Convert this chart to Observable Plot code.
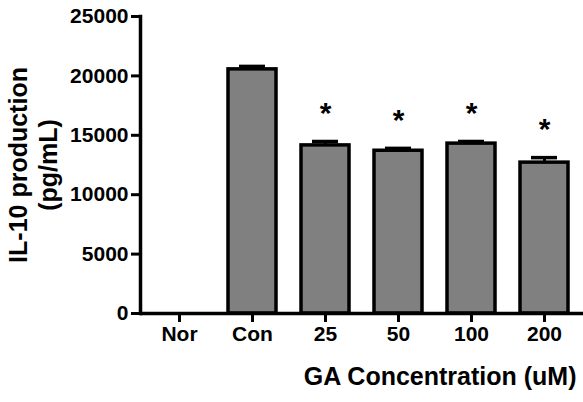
<!DOCTYPE html>
<html>
<head>
<meta charset="utf-8">
<script src="https://cdn.jsdelivr.net/npm/d3@7"></script>
<script src="https://cdn.jsdelivr.net/npm/@observablehq/plot@0.6"></script>
<style>
  html, body { margin: 0; padding: 0; background: #fff; }
</style>
</head>
<body>
<div id="chart"></div>
<script>
const groups = ["Nor", "Con", "25", "50", "100", "200"];
const means  = [0, 20550, 14150, 13700, 14300, 12700];
const sems   = [0, 250, 330, 200, 180, 420];
const stars  = ["", "", "*", "*", "*", "*"];
const yTicks = [0, 5000, 10000, 15000, 20000, 25000];

const data = groups.map((g, i) => ({group: g, mean: means[i], sem: sems[i], top: means[i] + sems[i], star: stars[i]}));

const font = "'Liberation Sans', Arial, sans-serif";

const chart = Plot.plot({
  width: 583,
  height: 402,
  marginLeft: 140,
  marginRight: 0,
  marginTop: 16,
  marginBottom: 89,
  style: {fontFamily: font, fontWeight: "bold", fontSize: "21px", color: "#000", background: "#fff"},
  x: {domain: groups, paddingInner: 0.34, paddingOuter: 0.17, label: null},
  y: {domain: [0, 25000], label: null},
  marks: [
    Plot.ruleX(data.filter(d => d.sem > 0), {x: "group", y1: "mean", y2: "top", stroke: "#000", strokeWidth: 3}),
    Plot.barY(data, {x: "group", y: "mean", fill: "#808080", stroke: "#000", strokeWidth: 3.5}),
    Plot.tickY(data.filter(d => d.sem > 0), {x: "group", y: "top", stroke: "#000", strokeWidth: 3.5, insetLeft: 11, insetRight: 11}),
    Plot.text(data.filter(d => d.star), {x: "group", y: "top", text: "star", dy: -28, fontSize: 30, fontWeight: "bold", fill: "#000"}),
    Plot.frame({anchor: "left", stroke: "#000", strokeWidth: 3.5}),
    Plot.ruleY([0], {stroke: "#000", strokeWidth: 3.5}),
    Plot.axisY({ticks: yTicks, tickSize: 9, tickPadding: 3, strokeWidth: 3, tickFormat: d => String(d), label: null, fontSize: 21}),
    Plot.axisX({tickSize: 9, tickPadding: 4, strokeWidth: 3, label: null, fontSize: 21}),
    Plot.text(["IL-10 production\n(pg/mL)"], {frameAnchor: "left", textAnchor: "middle", rotate: -90, dx: -108, fontSize: 25, fontWeight: "bold", lineHeight: 1.2, fill: "#000"}),
    Plot.text(["GA Concentration (uM)"], {frameAnchor: "bottom-right", textAnchor: "end", dx: -7, dy: 71, fontSize: 25, fontWeight: "bold", fill: "#000"})
  ]
});
document.getElementById("chart").appendChild(chart);
</script>
</body>
</html>
